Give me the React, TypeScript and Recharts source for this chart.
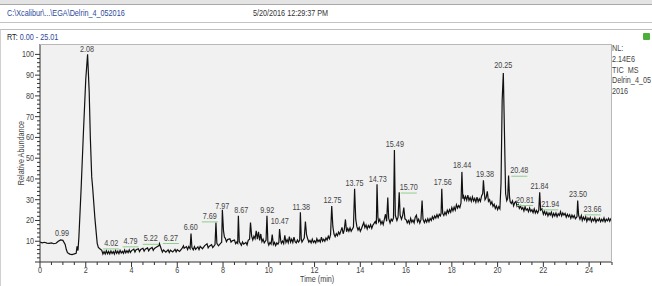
import React from 'react';
import { ComposedChart, Line, Scatter, XAxis, YAxis, CartesianGrid } from 'recharts';

const FONT = "'Liberation Sans', Arial, sans-serif";
const SQUEEZE = 0.85;

// TIC trace: [retention time (min), relative abundance (%)]
const earlyTrace: [number, number][] = [
  [0, 9.6], [0.1, 9.2], [0.2, 9.5], [0.3, 9.1], [0.4, 9.0], [0.5, 9.2], [0.6, 8.8], [0.7, 9.0],
  [0.8, 10.0], [0.9, 10.6], [1.0, 10.4], [1.1, 8.5], [1.15, 6.0], [1.2, 4.5], [1.3, 3.8], [1.4, 3.6],
  [1.5, 3.9], [1.58, 4.2], [1.62, 7.5], [1.66, 5.5], [1.7, 12], [1.8, 36], [1.9, 63], [2.0, 88],
  [2.08, 100], [2.15, 82], [2.2, 60], [2.26, 41], [2.3, 36], [2.4, 21], [2.5, 9], [2.55, 7],
  [2.6, 6.5], [2.7, 5.6], [2.75, 3.8], [2.8, 5.0], [2.85, 3.9], [2.9, 5.4], [2.95, 4.0], [3.0, 5.1],
  [3.05, 3.9], [3.1, 5.3], [3.15, 4.1], [3.2, 5.0], [3.25, 3.8], [3.3, 5.5], [3.35, 4.2], [3.4, 5.2],
  [3.45, 4.0], [3.5, 5.6], [3.55, 4.3], [3.6, 5.1], [3.65, 4.2], [3.7, 5.8], [3.75, 4.4], [3.8, 5.4],
  [3.85, 4.5], [3.9, 5.9], [3.95, 4.6], [4.0, 5.5], [4.1, 6.2], [4.15, 4.8], [4.2, 5.9], [4.3, 6.4],
  [4.35, 5.0], [4.4, 6.0], [4.5, 6.6], [4.55, 5.2], [4.6, 6.2], [4.7, 6.8], [4.75, 5.4], [4.8, 6.3],
  [4.9, 7.0], [4.95, 5.6], [5.0, 6.5], [5.1, 7.2], [5.2, 7.9], [5.22, 8.8], [5.27, 7.2], [5.3, 6.3],
  [5.35, 4.8], [5.4, 5.8], [5.5, 4.7], [5.6, 5.9], [5.65, 4.6], [5.7, 5.7], [5.8, 4.8], [5.9, 6.1],
  [5.95, 4.9], [6.0, 5.9], [6.1, 5.1], [6.2, 6.4], [6.27, 7.8], [6.3, 6.6], [6.4, 7.4], [6.45, 6.0],
  [6.5, 7.4], [6.56, 6.4], [6.6, 13.7], [6.64, 7.0], [6.7, 5.9], [6.75, 7.4], [6.8, 6.1], [6.9, 7.3],
  [6.95, 6.0], [7.0, 7.5], [7.1, 6.4], [7.2, 7.9], [7.3, 8.8], [7.35, 6.8], [7.4, 7.6], [7.5, 8.3],
  [7.55, 6.9], [7.6, 7.6], [7.65, 8.4], [7.69, 19.0], [7.73, 9.0], [7.8, 7.8], [7.9, 9.1], [7.94, 9.5],
  [7.97, 25.2], [8.02, 15], [8.06, 12], [8.1, 11.4], [8.15, 9.8], [8.2, 10.8], [8.3, 11.2], [8.35, 9.6],
  [8.4, 10.2], [8.5, 10.6], [8.55, 8.8], [8.6, 9.6], [8.64, 9.0], [8.67, 22.3], [8.71, 9.8], [8.8, 8.0],
  [8.85, 9.6], [8.9, 8.6], [9.0, 9.4], [9.05, 8.2], [9.1, 10.4], [9.16, 11], [9.2, 19.0], [9.25, 12.5],
  [9.3, 10.6], [9.35, 12.4], [9.4, 11.2], [9.45, 15.0], [9.5, 11.0], [9.55, 14.5], [9.6, 10.4], [9.65, 13.5],
  [9.7, 9.8], [9.75, 11.0], [9.8, 9.2], [9.88, 10.6], [9.92, 22.3], [9.96, 9.6],
];

const midTrace: [number, number][] = [
  [10.0, 8.2], [10.05, 9.4], [10.1, 8.6], [10.15, 13.2], [10.2, 8.4], [10.25, 9.4], [10.3, 7.9], [10.35, 9.2],
  [10.4, 8.6], [10.44, 9.5], [10.47, 15.9], [10.52, 10.4], [10.55, 9.0], [10.6, 10.1], [10.65, 8.9], [10.7, 12.8],
  [10.75, 9.4], [10.8, 10.8], [10.85, 9.3], [10.9, 12.2], [10.95, 9.6], [11.0, 11.0], [11.05, 9.4], [11.1, 12.0],
  [11.15, 9.8], [11.2, 9.2], [11.25, 10.6], [11.3, 9.6], [11.35, 10.4], [11.38, 24.0], [11.42, 11.0], [11.45, 9.6],
  [11.5, 10.6], [11.55, 11.5], [11.6, 19.5], [11.65, 13.0], [11.7, 11.2], [11.75, 9.6], [11.8, 10.4], [11.85, 9.2],
  [11.9, 11.0], [11.95, 9.4], [12.0, 10.2], [12.05, 9.2], [12.1, 11.2], [12.15, 9.8], [12.2, 10.6], [12.25, 9.6],
  [12.3, 12.0], [12.35, 10.0], [12.4, 11.0], [12.45, 10.0], [12.5, 11.6], [12.55, 10.6], [12.6, 12.4], [12.65, 11.2],
  [12.7, 13.2], [12.75, 27.0], [12.8, 17.0], [12.85, 13.5], [12.9, 12.2], [12.95, 13.6], [13.0, 12.6], [13.05, 14.4],
  [13.1, 13.4], [13.15, 15.0], [13.2, 16.7], [13.25, 13.6], [13.3, 15.6], [13.35, 20.5], [13.4, 14.6], [13.45, 16.2],
  [13.5, 14.8], [13.55, 16.4], [13.6, 14.8], [13.7, 16.8], [13.75, 35.3], [13.8, 20.5], [13.85, 17.0], [13.9, 15.4],
  [13.95, 16.6], [14.0, 14.8], [14.05, 16.0], [14.1, 17.6], [14.15, 19.0], [14.2, 16.6], [14.25, 17.8], [14.3, 15.9],
  [14.35, 17.6], [14.4, 16.6], [14.45, 18.0], [14.5, 16.2], [14.55, 17.8], [14.6, 18.6], [14.65, 19.5], [14.7, 18.2],
  [14.73, 37.4], [14.77, 21.5], [14.8, 19.4], [14.85, 20.6], [14.9, 18.3], [14.95, 19.6], [15.0, 18.0], [15.05, 20.5],
  [15.1, 23.0], [15.15, 19.6], [15.2, 31.0], [15.24, 21.0], [15.3, 18.8], [15.35, 20.6], [15.4, 19.8], [15.45, 21.2],
  [15.49, 54.0], [15.53, 22.5], [15.6, 20.0], [15.65, 21.6], [15.7, 33.6], [15.74, 22.6], [15.8, 20.6], [15.85, 22.4],
  [15.9, 26.2], [15.95, 20.8], [16.0, 20.4], [16.05, 18.8], [16.1, 20.0], [16.15, 18.6], [16.2, 21.0], [16.25, 19.2],
  [16.3, 20.2], [16.35, 18.8], [16.4, 21.6], [16.45, 22.5], [16.5, 19.4], [16.55, 20.6], [16.6, 18.8], [16.65, 20.4],
  [16.7, 29.6], [16.74, 20.6], [16.8, 19.0], [16.85, 20.4], [16.9, 19.2], [16.95, 20.8], [17.0, 19.4], [17.05, 21.0],
  [17.1, 20.0], [17.15, 21.8], [17.2, 20.6], [17.25, 22.2], [17.3, 21.2], [17.35, 22.8], [17.4, 21.4], [17.45, 23.0],
  [17.5, 22.2], [17.53, 23.4], [17.56, 35.3], [17.6, 23.4], [17.65, 22.4], [17.7, 24.0], [17.75, 22.8], [17.8, 25.0],
  [17.85, 23.6], [17.9, 25.2], [17.95, 24.0],
];

const lateTrace: [number, number][] = [
  [18.0, 26.2], [18.05, 24.6], [18.1, 26.4], [18.15, 25.0], [18.2, 27.6], [18.25, 26.0], [18.3, 27.2], [18.35, 26.2],
  [18.4, 28.4], [18.44, 43.4], [18.48, 30.5], [18.5, 32.4], [18.55, 30.0], [18.6, 31.6], [18.65, 29.8], [18.7, 32.2],
  [18.75, 29.6], [18.8, 31.0], [18.85, 29.2], [18.9, 31.4], [18.95, 29.4], [19.0, 30.6], [19.05, 28.8], [19.1, 31.2],
  [19.15, 29.0], [19.2, 30.4], [19.25, 29.2], [19.3, 31.8], [19.35, 33.0], [19.38, 39.3], [19.42, 33.5], [19.45, 30.0],
  [19.5, 31.0], [19.55, 34.0], [19.6, 29.2], [19.65, 30.0], [19.7, 27.8], [19.75, 29.0], [19.8, 26.8], [19.85, 27.8],
  [19.9, 25.8], [19.95, 27.0], [20.0, 25.2], [20.05, 26.6], [20.1, 25.6], [20.15, 38.0], [20.2, 78.0], [20.25, 91.0],
  [20.3, 62.0], [20.35, 33.0], [20.4, 29.5], [20.44, 30.5], [20.48, 41.7], [20.52, 31.5], [20.55, 29.0], [20.6, 28.2],
  [20.65, 29.4], [20.7, 27.0], [20.75, 28.6], [20.8, 29.2], [20.85, 26.8], [20.9, 27.6], [20.95, 25.8], [21.0, 27.0],
  [21.05, 25.4], [21.1, 26.2], [21.15, 24.6], [21.2, 26.6], [21.25, 25.0], [21.3, 25.6], [21.35, 24.2], [21.4, 26.0],
  [21.45, 24.4], [21.5, 25.2], [21.55, 23.8], [21.6, 25.6], [21.65, 23.6], [21.7, 24.8], [21.75, 23.6], [21.8, 25.0],
  [21.84, 33.6], [21.88, 25.0], [21.94, 25.6], [22.0, 23.0], [22.05, 24.4], [22.1, 22.8], [22.15, 24.0], [22.2, 22.2],
  [22.25, 23.6], [22.3, 22.6], [22.35, 24.0], [22.4, 21.8], [22.45, 23.4], [22.5, 22.2], [22.55, 23.6], [22.6, 21.8],
  [22.65, 23.2], [22.7, 22.4], [22.75, 24.2], [22.8, 22.2], [22.85, 23.6], [22.9, 22.6], [22.95, 23.4], [23.0, 21.6],
  [23.05, 23.0], [23.1, 21.8], [23.15, 22.8], [23.2, 21.0], [23.25, 22.6], [23.3, 21.4], [23.35, 22.4], [23.4, 20.8],
  [23.47, 21.8], [23.5, 29.6], [23.54, 22.6], [23.6, 20.6], [23.66, 22.4], [23.7, 20.0], [23.75, 21.6], [23.8, 20.4],
  [23.85, 21.8], [23.9, 19.6], [23.95, 21.2], [24.0, 20.2], [24.05, 21.4], [24.1, 19.4], [24.15, 20.8], [24.2, 19.8],
  [24.25, 21.2], [24.3, 19.2], [24.35, 20.6], [24.4, 19.8], [24.45, 21.0], [24.5, 19.4], [24.55, 20.6], [24.6, 19.6],
  [24.65, 21.2], [24.7, 19.4], [24.75, 20.6], [24.8, 19.8], [24.85, 21.0], [24.9, 19.6], [24.95, 20.8], [25.0, 20.2],
];

// peak annotations and where the software placed each tag (time, abundance)
const peakNames = [
  '0.99', '2.08', '4.02', '4.79', '5.22', '6.27', '6.60', '7.69', '7.97', '8.67', '9.92', '10.47', '11.38',
  '12.75', '13.75', '14.73', '15.49', '15.70', '17.56', '18.44', '19.38', '20.25', '20.48', '20.81', '21.84',
  '21.94', '23.50', '23.66',
];
const tagAnchor: [number, number][] = [
  [0.96, 14.1], [2.05, 102.8], [3.11, 9.2], [3.96, 10.2], [4.84, 11.4], [5.72, 11.8], [6.59, 16.7], [7.42, 22.2],
  [7.97, 27.2], [8.8, 25.1], [9.93, 25.1], [10.48, 19.6], [11.42, 26.7], [12.78, 30.1], [13.75, 38], [14.76, 40.1],
  [15.51, 56.6], [16.12, 36.1], [17.6, 38.5], [18.45, 46.5], [19.45, 42.2], [20.25, 94.8], [20.95, 44.2],
  [21.2, 30.1], [21.83, 36.6], [22.3, 28], [23.51, 32.9], [24.15, 25.6],
];
const integrated = ['4.02', '4.79', '5.22', '6.27', '7.69', '15.70', '20.48', '20.81', '21.94', '23.66'];

const xTicks = Array.from({ length: 51 }, (_, i) => i * 0.5);
const yTicks = Array.from({ length: 51 }, (_, i) => i * 2);

const trace = [...earlyTrace, ...midTrace, ...lateTrace].map(([x, v]) => ({ x, v }));
const tags = peakNames.map((label, i) => ({
  x: tagAnchor[i][0],
  y: tagAnchor[i][1],
  label,
  green: integrated.includes(label),
}));

// narrow text, like the instrument software's font
const NarrowText = ({ x, y, anchor = 'middle', children }: any) => (
  <text
    transform={`translate(${x} ${y}) scale(${SQUEEZE} 1)`}
    textAnchor={anchor}
    fontSize={8.5}
    fill="#444"
    fontFamily={FONT}
  >
    {children}
  </text>
);

const XTick = (props: any) => {
  const { x, y, payload } = props;
  const val = payload.value;
  const major = Math.abs(val % 2) < 1e-6;
  return (
    <g>
      <line x1={x} x2={x} y1={y} y2={y + (major ? 5 : 3)} stroke="#333" />
      {major && <NarrowText x={x} y={y + 10.5}>{val}</NarrowText>}
    </g>
  );
};

const YTick = (props: any) => {
  const { x, y, payload } = props;
  const val = payload.value;
  const major = val % 10 === 0;
  return (
    <g>
      <line x1={x - (major ? 5 : 3)} x2={x} y1={y} y2={y} stroke="#333" />
      {major && val > 0 && <NarrowText x={x - 6} y={y + 3} anchor="end">{val}</NarrowText>}
    </g>
  );
};

const PeakTag = (props: any) => {
  const { cx, cy, payload } = props;
  return (
    <g>
      <NarrowText x={cx} y={cy + 3}>{payload.label}</NarrowText>
      {payload.green && <line x1={cx - 8} x2={cx + 8} y1={cy + 6} y2={cy + 6} stroke="#8ccf8c" />}
    </g>
  );
};

const txt: React.CSSProperties = {
  position: 'absolute',
  fontFamily: FONT,
  fontSize: 8.5,
  lineHeight: '10px',
  whiteSpace: 'nowrap',
  transform: `scaleX(${SQUEEZE})`,
  transformOrigin: 'left top',
};

export default function App() {
  return (
    <div style={{ position: 'absolute', left: 0, top: 0, width: 652, height: 286, background: '#fff', overflow: 'hidden' }}>
      <div style={{ position: 'absolute', left: 0, top: 0, width: 652, height: 4, background: '#e4e4e4', borderBottom: '1px solid #a8a8a8' }} />
      <div style={{ ...txt, left: 7, top: 8, color: '#2b4a9a' }}>C:\Xcalibur\...\EGA\Delrin_4_052016</div>
      <div style={{ ...txt, left: 253, top: 8, color: '#333' }}>5/20/2016 12:29:37 PM</div>
      <div style={{ position: 'absolute', left: 0, top: 22, width: 652, height: 1, background: '#c4c4c4' }} />
      <div style={{ position: 'absolute', left: 0, top: 29, width: 652, height: 257, borderTop: '1px solid #bdbdbd', borderLeft: '1px solid #d0d0d0' }} />
      <div style={{ ...txt, left: 7, top: 32, color: '#222' }}>
        RT: <span style={{ color: '#2b4a9a' }}>0.00 - 25.01</span>
      </div>
      <div style={{ position: 'absolute', left: 643, top: 33, width: 7, height: 7, background: '#4caf3c', borderRadius: 1 }} />
      <div style={{ ...txt, left: 612, top: 43, color: '#444', lineHeight: '10.8px' }}>
        NL:<br />2.14E6<br />TIC&nbsp;&nbsp;MS<br />Delrin_4_05<br />2016
      </div>
      <div style={{ ...txt, left: 300, top: 274, color: '#444' }}>Time (min)</div>
      <div
        style={{
          position: 'absolute', left: 21, top: 153, fontFamily: FONT, fontSize: 8.5, color: '#444', whiteSpace: 'nowrap',
          lineHeight: '10px', transform: `translate(-50%, -50%) rotate(-90deg) scaleX(${SQUEEZE})`,
        }}
      >
        Relative Abundance
      </div>

      <div style={{ position: 'absolute', left: 0, top: 0 }}>
        <ComposedChart width={652} height={286} margin={{ top: 44, right: 40, bottom: 0, left: 10 }}>
          <CartesianGrid horizontal={false} vertical={false} fill="#f1f1f1" />
          <XAxis
            dataKey="x"
            type="number"
            domain={[0, 25]}
            ticks={xTicks}
            interval={0}
            tick={<XTick />}
            tickLine={false}
            tickSize={0}
            tickMargin={0}
            height={24}
            stroke="#333"
            allowDataOverflow
          />
          <YAxis
            type="number"
            domain={[0, 105]}
            ticks={yTicks}
            interval={0}
            tick={<YTick />}
            tickLine={false}
            tickSize={0}
            tickMargin={0}
            width={30}
            stroke="#333"
            allowDataOverflow
          />
          <Line data={trace} dataKey="v" type="linear" stroke="#111" strokeWidth={1.2} dot={false} isAnimationActive={false} />
          <Scatter data={tags} dataKey="y" shape={<PeakTag />} isAnimationActive={false} />
        </ComposedChart>
      </div>
      <div style={{ position: 'absolute', left: 40, top: 44, width: 572, height: 218, borderTop: '1px solid #b8b8b8', borderRight: '1px solid #b8b8b8', boxSizing: 'border-box', pointerEvents: 'none' }} />
    </div>
  );
}
